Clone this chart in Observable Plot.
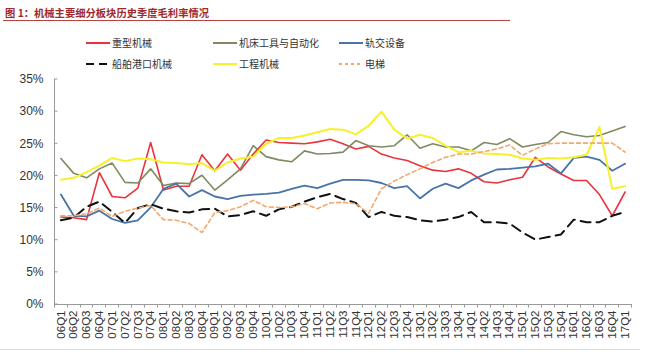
<!DOCTYPE html>
<html><head><meta charset="utf-8">
<script src="https://cdn.jsdelivr.net/npm/d3@7"></script>
<script src="https://cdn.jsdelivr.net/npm/@observablehq/plot@0.6"></script>
<style>
body{margin:0;background:#fff;}
#wrap{position:relative;width:651px;height:360px;overflow:hidden;font-family:"Noto Sans CJK SC",sans-serif;background:#fff;}
#title{position:absolute;left:5px;top:5px;font-size:10.3px;font-weight:bold;color:#9e2a2b;line-height:15px;white-space:nowrap;}
#rule{position:absolute;left:3px;top:20px;width:507px;height:0;border-top:1.5px solid #b5443e;}
.leg{position:absolute;display:flex;align-items:center;font-size:10px;color:#333;line-height:12px;white-space:nowrap;}
.leg svg{margin-right:2px;display:block;}
#chart{position:absolute;left:0;top:70px;}
#chart svg text{fill:#333;}
#bottom{position:absolute;left:0;top:349px;width:640px;border-top:1px solid #e3d9d9;}
</style></head>
<body>
<div id="wrap">
  <div id="title">图 1：机械主要细分板块历史季度毛利率情况</div>
  <div id="rule"></div>
  <div id="legend"></div>
  <div id="chart"></div>
  <div id="bottom"></div>
</div>
<script>
const quarters = ["06Q1","06Q2","06Q3","06Q4","07Q1","07Q2","07Q3","07Q4","08Q1","08Q2","08Q3","08Q4",
  "09Q1","09Q2","09Q3","09Q4","10Q1","10Q2","10Q3","10Q4","11Q1","11Q2","11Q3","11Q4",
  "12Q1","12Q2","12Q3","12Q4","13Q1","13Q2","13Q3","13Q4","14Q1","14Q2","14Q3","14Q4",
  "15Q1","15Q2","15Q3","15Q4","16Q1","16Q2","16Q3","16Q4","17Q1"];
const yTicks = [0,5,10,15,20,25,30,35];

const heavy = [13.6,13.5,13.2,20.5,16.8,16.6,18.1,25.2,17.8,18.4,18.4,23.3,
  20.8,23.4,20.9,23.4,25.6,25.2,25.1,25.0,25.3,25.7,25.0,
  24.2,24.6,23.4,22.8,22.4,21.6,20.9,20.7,21.1,20.4,19.1,18.9,
  19.4,19.8,22.9,21.4,20.3,19.3,19.3,17.1,13.8,17.5];
const machineTool = [22.7,20.4,19.7,21.1,22.0,19.0,18.9,21.1,18.5,18.9,18.8,20.1,
  17.8,19.4,21.1,24.7,23.0,22.5,22.2,23.9,23.4,23.5,23.7,
  25.5,24.7,24.5,24.7,26.4,24.3,25.0,24.5,24.5,23.9,25.2,24.9,
  25.8,24.5,24.9,25.2,26.9,26.4,26.1,26.3,27.0,27.7];
const rail = [17.1,13.8,13.7,14.6,13.3,12.7,13.1,15.1,18.0,18.8,16.8,17.8,
  16.8,16.4,16.9,17.1,17.2,17.4,18.0,18.5,18.1,18.8,19.4,
  19.4,19.3,18.9,18.1,18.4,16.5,18.0,18.8,18.1,19.3,20.2,21.0,
  21.1,21.3,21.5,21.9,20.4,22.8,23.0,22.5,20.8,21.9];
const ship = [13.1,13.5,15.2,16.0,14.4,12.7,15.0,15.6,14.9,14.5,14.3,14.8,
  14.9,13.7,13.9,14.5,13.8,14.8,15.2,16.0,16.7,17.2,16.4,
  15.8,13.6,14.4,13.8,13.6,13.1,12.9,13.2,13.6,14.4,12.8,12.8,
  12.6,11.2,10.1,10.5,10.9,13.2,12.8,12.8,13.8,14.4];
const construction = [19.4,19.7,20.6,21.6,22.8,22.3,22.7,22.6,22.1,22.0,21.8,22.0,
  20.8,22.1,22.7,23.0,25.0,25.9,25.9,26.3,26.8,27.3,27.2,
  26.5,27.8,30.0,27.2,25.8,26.4,25.9,24.7,23.7,23.9,23.5,23.4,
  23.3,22.7,22.5,22.8,22.7,22.9,23.3,27.6,18.0,18.4];
const elevator = [13.8,13.8,14.1,15.0,13.7,14.5,15.0,15.4,13.2,13.1,12.6,11.2,
  14.3,14.6,15.2,16.2,15.2,15.1,15.2,15.7,14.9,15.8,15.9,
  15.7,14.2,18.0,19.2,20.2,21.1,22.1,22.9,23.4,23.4,23.8,24.2,
  24.8,23.2,24.2,25.0,25.1,25.1,25.1,25.1,25.1,23.7];

const seriesNames = ["重型机械","机床工具与自动化","轨交设备","船舶港口机械","工程机械","电梯"];
const seriesValues = [heavy, machineTool, rail, ship, construction, elevator];
const seriesColors = ["#e8343c","#7f8a60","#4a73a8","#111111","#f7f02a","#f2a86e"];
const seriesDash = [null, null, null, "10,6", null, "4,3"];
const seriesWidth = [1.6, 1.6, 1.8, 2, 2, 1.6];

// legend
const legendCols = [86, 213, 339];
const legendRows = [37, 58];
const legend = document.getElementById("legend");
seriesNames.forEach((name, k) => {
  const div = document.createElement("div");
  div.className = "leg";
  div.style.left = legendCols[k % 3] + "px";
  div.style.top = legendRows[Math.floor(k / 3)] + "px";
  const dash = seriesDash[k] ? ` stroke-dasharray="${k === 3 ? "8,5" : "3,3"}"` : "";
  div.innerHTML = `<svg width="24" height="4"><line x1="0" x2="24" y1="2" y2="2" stroke="${seriesColors[k]}" stroke-width="2"${dash}/></svg><span>${name}</span>`;
  legend.appendChild(div);
});

const marks = [];
seriesNames.forEach((name, k) => {
  const rows = quarters.map((q, i) => ({q, v: seriesValues[k][i]}));
  marks.push(Plot.line(rows, {
    x: "q", y: "v",
    stroke: seriesColors[k],
    strokeWidth: seriesWidth[k],
    strokeDasharray: seriesDash[k] || undefined,
    strokeLinejoin: "round"
  }));
});

const chart = Plot.plot({
  width: 651, height: 280,
  marginTop: 9, marginBottom: 46, marginLeft: 54, marginRight: 20,
  style: {fontFamily: "'Liberation Sans', Arial, sans-serif", fontSize: "11.5px", color: "#9a9a9a", background: "transparent"},
  x: {type: "band", domain: quarters, padding: 0, tickSize: 0, tickRotate: -90, tickPadding: 6, line: true, label: null},
  y: {domain: [0, 35], ticks: yTicks, tickFormat: d => d + "%", tickSize: 0, tickPadding: 11, line: true, label: null},
  marks
});
document.getElementById("chart").appendChild(chart);

// extra tick marks: x ticks at band boundaries (outward), y ticks inward
const xs = chart.scale("x"), ys = chart.scale("y");
const svg = d3.select(chart);
const y0 = ys.apply(0);
const bounds = quarters.map(q => xs.apply(q)).concat([xs.apply(quarters[quarters.length - 1]) + xs.bandwidth]);
const g = svg.append("g").attr("stroke", "#9a9a9a").attr("stroke-width", 1);
g.selectAll("line.xt").data(bounds).join("line")
  .attr("x1", d => Math.round(d) + 0.5).attr("x2", d => Math.round(d) + 0.5)
  .attr("y1", y0).attr("y2", y0 + 3.5);
const xLeft = xs.range[0];
g.selectAll("line.yt").data(yTicks).join("line")
  .attr("x1", xLeft).attr("x2", xLeft + 3.5)
  .attr("y1", d => ys.apply(d)).attr("y2", d => ys.apply(d));
svg.selectAll("g[aria-label='y-axis tick label'] text, g[aria-label='y-axis'] text").style("font-size", "12px");
</script>
</body></html>
